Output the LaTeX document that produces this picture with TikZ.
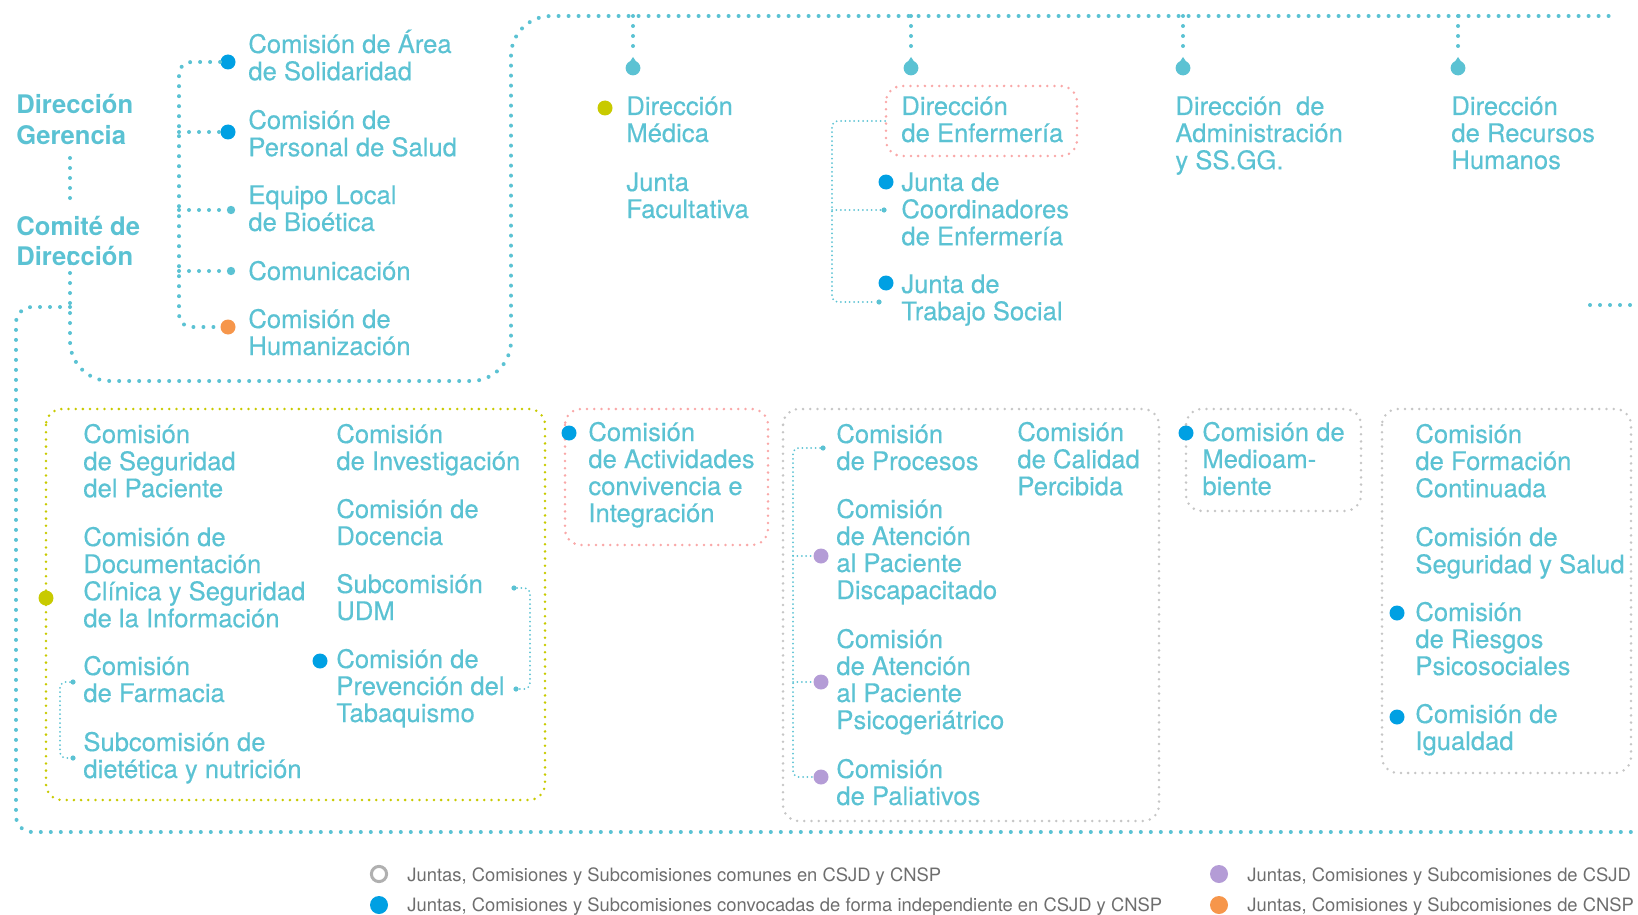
\documentclass[tikz,border=0pt]{standalone}
\usepackage{fontspec}
\setmainfont{TeX Gyre Heros}
\newfontfamily\medfont{TeX Gyre Heros}[FakeBold=0.35]
\definecolor{tealc}{HTML}{5BC2D3}
\definecolor{blueD}{HTML}{00A0E3}
\definecolor{yellowD}{HTML}{C8CA00}
\definecolor{orangeD}{HTML}{F6964B}
\definecolor{purpleD}{HTML}{B49CD6}
\definecolor{pinkB}{HTML}{F9A8A8}
\definecolor{grayB}{HTML}{C6C6C6}
\definecolor{legT}{HTML}{6E6E6E}
\definecolor{legR}{HTML}{B0B0B0}
\newcommand\mlines[1]{\begin{tabular}[t]{@{}l@{}}#1\end{tabular}}
\begin{document}
\begin{tikzpicture}[x=0.5pt,y=-0.5pt,
  txt/.style={anchor=base west, inner sep=0pt, text=tealc, font=\medfont\fontsize{12.8pt}{13.5pt}\selectfont},
  hd/.style={anchor=base west, inner sep=0pt, text=tealc, font=\fontsize{12.8pt}{15pt}\selectfont\bfseries},
  leg/.style={anchor=base west, inner sep=0pt, text=legT, font=\fontsize{9.2pt}{11pt}\selectfont},
  big/.style={draw=tealc, line width=2pt, dash pattern=on 0pt off 5pt, line cap=round},
  thinc/.style={draw=tealc, line width=1pt, dash pattern=on 0pt off 2.2pt, line cap=round},
  boxd/.style={line width=1.4pt, dash pattern=on 0pt off 3.6pt, line cap=round, rounded corners=8pt},
  bdot/.style={circle, inner sep=0pt, minimum size=7.5pt, fill=#1},
  sdot/.style={circle, inner sep=0pt, minimum size=4.2pt, fill=tealc},
  tdot/.style={circle, inner sep=0pt, minimum size=2.6pt, fill=tealc},
]
\useasboundingbox (0,0) rectangle (1638,915);

% ---------- texts ----------
\node[hd] (gerencia) at (16,114) {\mlines{Dirección\\Gerencia}};
\node[hd] (comite) at (16,235) {\mlines{Comité de\\Dirección}};

\node[txt] (solid) at (248,53) {\mlines{Comisión de Área\\de Solidaridad}};
\node[txt] (persal) at (248,129) {\mlines{Comisión de\\Personal de Salud}};
\node[txt] (bioet) at (248,204) {\mlines{Equipo Local\\de Bioética}};
\node[txt] (comun) at (248,280) {Comunicación};
\node[txt] (human) at (248,328) {\mlines{Comisión de\\Humanización}};

\node[txt] (dmed) at (626,115) {\mlines{Dirección\\Médica}};
\node[txt] (jfac) at (626,191) {\mlines{Junta\\Facultativa}};
\node[txt] (denf) at (901,115) {\mlines{Dirección\\de Enfermería}};
\node[txt] (jcoord) at (901,191) {\mlines{Junta de\\Coordinadores\\de Enfermería}};
\node[txt] (jtrab) at (901,293) {\mlines{Junta de\\Trabajo Social}};
\node[txt] (dadm) at (1175,115) {\mlines{Dirección\ \ de\\Administración\\y SS.GG.}};
\node[txt] (drrhh) at (1451,115) {\mlines{Dirección\\de Recursos\\Humanos}};

\node[txt] (segpac) at (83,443) {\mlines{Comisión\\de Seguridad\\del Paciente}};
\node[txt] (docclin) at (83,546) {\mlines{Comisión de\\Documentación\\Clínica y Seguridad\\de la Información}};
\node[txt] (farm) at (83,675) {\mlines{Comisión\\de Farmacia}};
\node[txt] (diet) at (83,751) {\mlines{Subcomisión de\\dietética y nutrición}};
\node[txt] (invest) at (336,443) {\mlines{Comisión\\de Investigación}};
\node[txt] (docen) at (336,518) {\mlines{Comisión de\\Docencia}};
\node[txt] (udm) at (336,593) {\mlines{Subcomisión\\UDM}};
\node[txt] (tabaq) at (336,668) {\mlines{Comisión de\\Prevención del\\Tabaquismo}};

\node[txt] (activ) at (588,441) {\mlines{Comisión\\de Actividades\\convivencia e\\Integración}};

\node[txt] (proc) at (836,443) {\mlines{Comisión\\de Procesos}};
\node[txt] (discap) at (836,518) {\mlines{Comisión\\de Atención\\al Paciente\\Discapacitado}};
\node[txt] (psico) at (836,648) {\mlines{Comisión\\de Atención\\al Paciente\\Psicogeriátrico}};
\node[txt] (paliat) at (836,778) {\mlines{Comisión\\de Paliativos}};
\node[txt] (calidad) at (1017,441) {\mlines{Comisión\\de Calidad\\Percibida}};

\node[txt] (medio) at (1202,441) {\mlines{Comisión de\\Medioam-\\biente}};

\node[txt] (formac) at (1415,443) {\mlines{Comisión\\de Formación\\Continuada}};
\node[txt] (segsal) at (1415,546) {\mlines{Comisión de\\Seguridad y Salud}};
\node[txt] (riesg) at (1415,621) {\mlines{Comisión\\de Riesgos\\Psicosociales}};
\node[txt] (igual) at (1415,723) {\mlines{Comisión de\\Igualdad}};

% ---------- boxes ----------
\draw[boxd, draw=pinkB] (886,86) rectangle (1077,156);
\draw[boxd, draw=yellowD] (46,409) rectangle (545,800);
\draw[boxd, draw=pinkB] (565,409) rectangle (768,545);
\draw[boxd, draw=grayB] (783,409) rectangle (1159,821);
\draw[boxd, draw=grayB] (1186,409) rectangle (1361,511);
\draw[boxd, draw=grayB] (1382,409) rectangle (1631,773);

% ---------- main tree ----------
\coordinate (g1) at (70,158);
\coordinate (g2) at (70,207);
\coordinate (c1) at (70,253);
\coordinate (lBL) at (70,381);
\coordinate (lBR) at (511,381);
\coordinate (lTR) at (511,16);
\coordinate (topEnd) at (1609,16);
\draw[big] (g1) -- (g2);
\draw[big, rounded corners=20pt] (c1) -- (lBL) -- (lBR) -- (lTR) -- (topEnd);

\coordinate (j) at (70,307);
\coordinate (jL) at (16,307);
\coordinate (bL) at (16,832);
\coordinate (bR) at (1636,832);
\draw[big, rounded corners=8pt] (j) -- (jL) -- (bL) -- (bR);
\coordinate (stubA) at (1590,305);
\coordinate (stubB) at (1636,305);
\draw[big] (stubA) -- (stubB);

\foreach \xx/\nm in {633/dr1, 911/dr2, 1183/dr3, 1458/dr4}{
  \coordinate (\nm top) at (\xx,16);
  \node[circle, inner sep=0pt, minimum size=7.4pt, fill=tealc] (\nm) at (\xx,68) {};
  \draw[big] (\nm top) -- (\xx,53);
  \fill[tealc] (\xx-6,66) -- (\xx,57) -- (\xx+6,66) -- cycle;
}

% ---------- left group ----------
\node[bdot=blueD] (dSol) at (228,62) {};
\node[bdot=blueD] (dPer) at (228,132) {};
\node[sdot] (dBio) at (231,210) {};
\node[sdot] (dCom) at (231,271) {};
\node[bdot=orangeD] (dHum) at (228,327) {};
\coordinate (lgT) at (179,62);
\coordinate (lgB) at (179,327);
\draw[big, rounded corners=6pt] (dSol.west) -- (lgT) -- (lgB) -- (dHum.west);
\draw[big] (dPer.west -| lgT) -- (dPer.west);
\draw[big] (dBio.west -| lgT) -- (dBio.west);
\draw[big] (dCom.west -| lgT) -- (dCom.west);

% ---------- top row dots ----------
\node[bdot=yellowD] (dMed) at (605,108) {};
\node[bdot=blueD] (dJc) at (886,182) {};
\node[bdot=blueD] (dJt) at (886,283) {};

% Enfermeria connector
\coordinate (eW) at (885,121);
\coordinate (eT) at (832,121);
\coordinate (eB) at (832,302);
\node[tdot] (eEnd) at (879,302) {};
\node[tdot] (eMid) at (884,210) {};
\draw[thinc, rounded corners=3pt] (eW) -- (eT) -- (eB) -- (eEnd);
\draw[thinc] (eMid -| eT) -- (eMid);

% ---------- bottom dots ----------
\node[bdot=yellowD] (dYel) at (46,598) {};
\node[bdot=blueD] (dTab) at (320,661) {};
\node[bdot=blueD] (dAct) at (569,433) {};
\node[bdot=purpleD] (dDis) at (821,556) {};
\node[bdot=purpleD] (dPsi) at (821,682) {};
\node[bdot=purpleD] (dPal) at (821,777) {};
\node[bdot=blueD] (dMed2) at (1186,433) {};
\node[bdot=blueD] (dRie) at (1397,613) {};
\node[bdot=blueD] (dIgu) at (1397,717) {};

% Farmacia connector
\node[tdot] (fA) at (73,682) {};
\node[tdot] (fB) at (73,758) {};
\coordinate (fAL) at (60,682);
\coordinate (fBL) at (60,758);
\draw[thinc, rounded corners=3pt] (fA) -- (fAL) -- (fBL) -- (fB);

% UDM connector
\node[tdot] (uA) at (514,588) {};
\node[tdot] (uB) at (516,689) {};
\coordinate (uAR) at (530,588);
\coordinate (uBR) at (530,689);
\draw[thinc, rounded corners=3pt] (uA) -- (uAR) -- (uBR) -- (uB);

% Procesos connector
\node[tdot] (pA) at (823,448) {};
\coordinate (pAL) at (793,448);
\coordinate (pBL) at (793,777);
\draw[thinc, rounded corners=3pt] (pA) -- (pAL) -- (pBL) -- (dPal.west);
\draw[thinc] (dDis.west -| pAL) -- (dDis.west);
\draw[thinc] (dPsi.west -| pAL) -- (dPsi.west);

% ---------- legend ----------
\node[circle, inner sep=0pt, minimum size=7.6pt, draw=legR, line width=1.5pt] (lg1) at (379,874) {};
\node[bdot=blueD, minimum size=9pt] (lg2) at (379,905) {};
\node[bdot=purpleD, minimum size=9pt] (lg3) at (1219,874) {};
\node[bdot=orangeD, minimum size=9pt] (lg4) at (1219,905) {};
\node[leg] (lt1) at (407,881) {Juntas, Comisiones y Subcomisiones comunes en CSJD y CNSP};
\node[leg] (lt2) at (407,911) {Juntas, Comisiones y Subcomisiones convocadas de forma independiente en CSJD y CNSP};
\node[leg] (lt3) at (1247,881) {Juntas, Comisiones y Subcomisiones de CSJD};
\node[leg] (lt4) at (1247,911) {Juntas, Comisiones y Subcomisiones de CNSP};
\end{tikzpicture}
\end{document}
